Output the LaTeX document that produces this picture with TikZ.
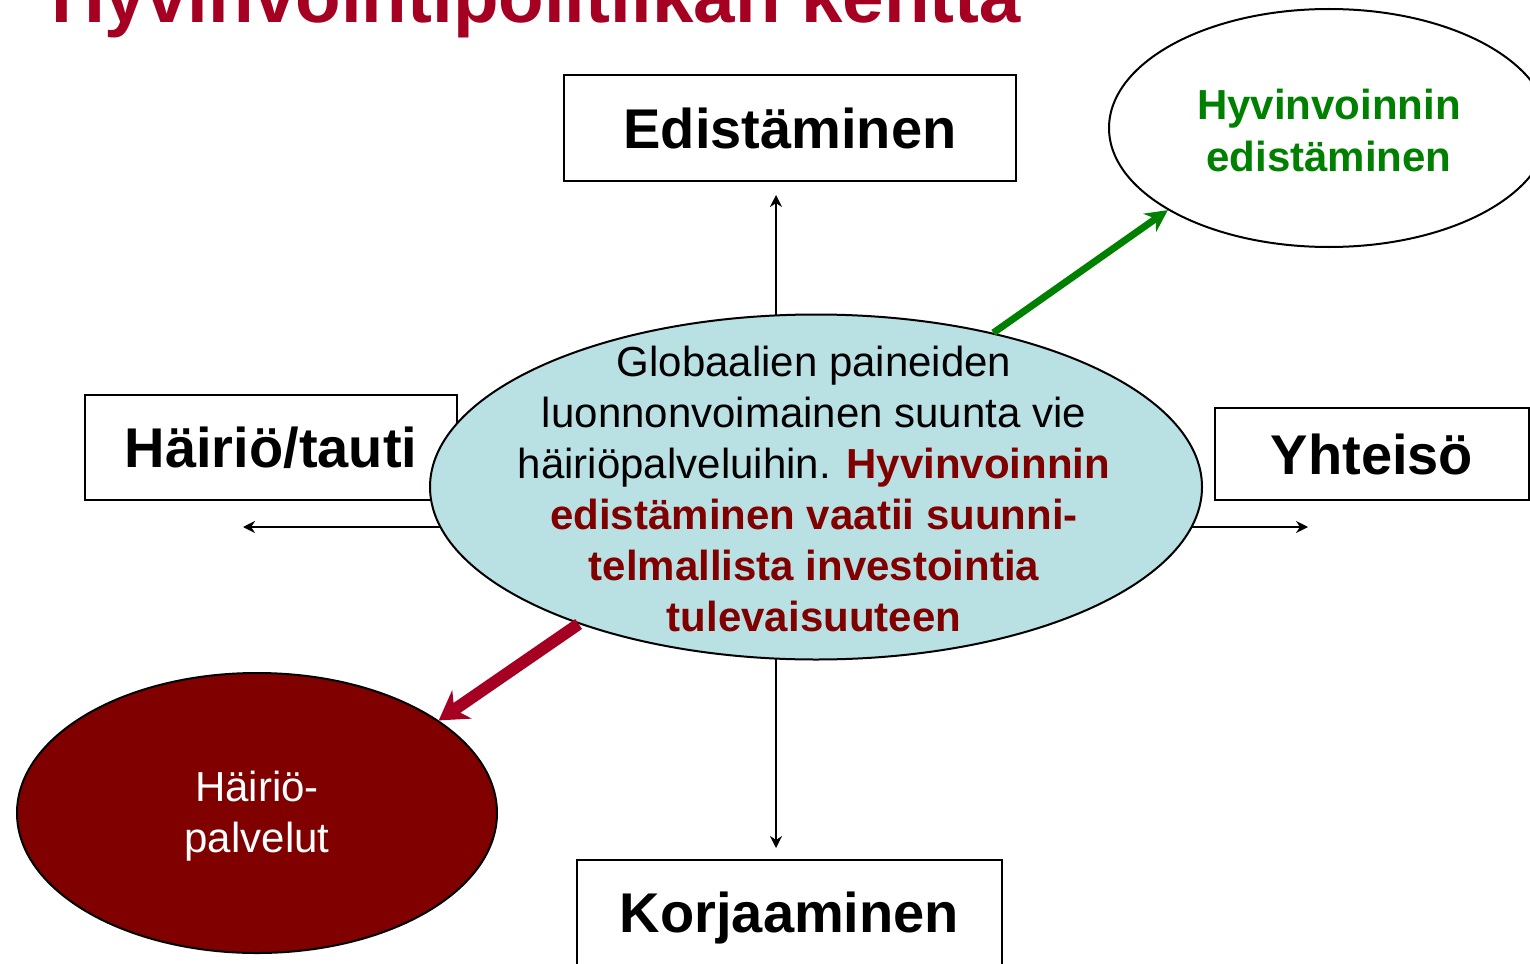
\documentclass[tikz,border=0pt]{standalone}
\usepackage{fontspec}
\setmainfont{Liberation Sans}
\usetikzlibrary{shapes.geometric,arrows.meta}
\definecolor{titlered}{RGB}{165,0,33}
\definecolor{darkred}{RGB}{128,0,0}
\definecolor{goodgreen}{RGB}{0,128,0}
\definecolor{paleblue}{RGB}{185,224,227}

\begin{document}
\begin{tikzpicture}
    [x=0.5pt, y=-0.5pt,
    line width=1pt,
    field/.style={draw, fill=white, inner sep=0pt, font=\fontsize{28}{34}\selectfont\bfseries},
    blob/.style={draw, ellipse, inner sep=0pt},
    blobtext/.style={inner sep=0pt, align=center, font=\fontsize{21}{25.5}\selectfont},
    axis/.style={-{Stealth[length=6pt, width=6pt]}},
    greenpush/.style={draw=goodgreen, line width=3.5pt, -{Stealth[length=11pt, width=11pt]}},
    redpush/.style={draw=titlered, line width=6pt, -{Stealth[length=14pt, width=17pt]}}]
        \clip (0,0) rectangle (1530,963);
        %% Title
        \node[anchor=base west, inner sep=0pt, text=titlered, font=\fontsize{37.3}{44}\selectfont\bfseries] (title) at (50,23) {Hyvinvointipolitiikan kenttä};
        
        %% Axes
        \coordinate (hub) at (776,527);
        \coordinate (endN) at (776,195);
        \coordinate (endS) at (776,848);
        \coordinate (endW) at (243,527);
        \coordinate (endE) at (1308,527);
        \draw[axis] (hub) to (endN);
        \draw[axis] (hub) to (endS);
        \draw[axis] (hub) to (endW);
        \draw[axis] (hub) to (endE);
        
        %% Fields
        \node[field, minimum width=226pt, minimum height=53pt] (E) at (790,128) {Edistäminen};
        \node[field, minimum width=186pt, minimum height=52.5pt] (H) at (271,447.5) {Häiriö/tauti};
        \node[field, minimum width=157pt, minimum height=46pt] (Y) at (1372,454) {Yhteisö};
        \node[field, minimum width=212.5pt, minimum height=58pt] (K) at (789.5,918) {Korjaaminen};
        
        %% Ellipses
        \node[blob, fill=paleblue, minimum width=386pt, minimum height=172.5pt] (main) at (816,487) {};
        \node[blobtext] (mainText) at (814,489)
            {Globaalien paineiden\\ luonnonvoimainen suunta vie\\ häiriöpalveluihin. {\color{darkred}\bfseries Hyvinvoinnin}\\
             {\color{darkred}\bfseries edistäminen vaatii suunni-}\\ {\color{darkred}\bfseries telmallista investointia}\\ {\color{darkred}\bfseries tulevaisuuteen}};
        \node[blob, fill=white, minimum width=220pt, minimum height=119pt] (good) at (1329,128) {};
        \node[blobtext, text=goodgreen, font=\fontsize{21}{26}\selectfont\bfseries] (goodText) at (1329,130)
            {Hyvinvoinnin\\ edistäminen};
        \node[blob, fill=darkred, minimum width=240pt, minimum height=140pt] (bad) at (257,813) {};
        \node[blobtext, text=white] (badText) at (257,816)
            {Häiriö-\\ palvelut};
        
        \draw[greenpush] (main.41) to (good.207);
        \draw[redpush] (main.210) to (bad.27);
    \end{tikzpicture}
\end{document}
